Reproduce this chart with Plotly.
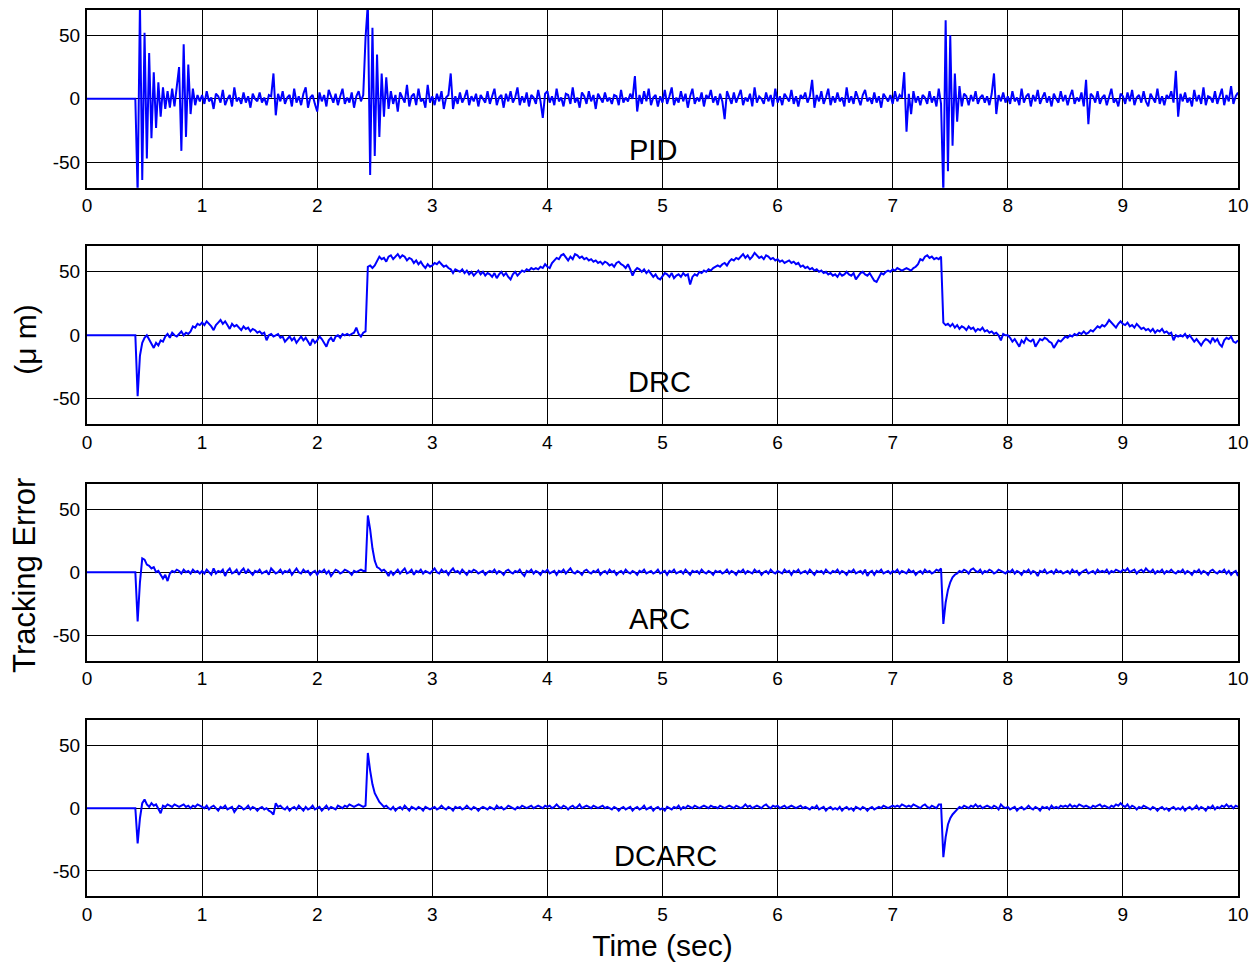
import plotly.graph_objects as go
from plotly.subplots import make_subplots

# Tracking error logs (micrometres), sampled every 20 ms.
# Each inner list holds half a second of samples.
DT = 0.02
ROW_SPAN = 0.5

PID_ERR = [
    [0] * 22 + [-75, 75, -64],
    [52, -47, 36, -31, 21, -23, 13, -14, 9, -8, 6, -7, 8, -6, 10, 25, -41, 43, -30, 27, -12, 8, -5, 3, -2],
    [3, -4, 6, -2, 1, -8, 4, 2, -3, 7, -5, 0, 3, -6, 9, -2, 1, -4, 5, -3, 2, -7, 4, 0, -2],
    [5, -3, 1, -5, 3, 2, 20, -13, 4, -2, 6, -4, 1, 3, -6, 8, -3, 2, -5, 4, 9, -7, 1, 3, -4],
    [-10, 5, -2, 3, -6, 7, 1, -3, 4, -5, 2, 8, -4, 1, -3, 5, -7, 2, 6, -2, 3, 48, 75, -60, 56],
    [-45, 35, -30, 20, -14, 17, -8, 6, -4, 3, -10, 5, 1, -3, 11, -6, 2, 4, -5, 8, -2, 0, -7, 11, -3],
    [2, -5, 4, -2, 6, -8, 1, 3, 20, -8, 2, -4, 5, -3, 1, 7, -5, 2, -2, 4, -6, 3, 0, -3, 6],
    [-4, 2, 8, -5, 1, 3, -7, 4, -2, 6, -3, 1, 9, -5, 2, -3, 5, -6, 3, 1, -4, 7, -2, -15, 4],
    [6, -3, 2, -5, 8, -2, 1, -6, 4, 3, -4, 9, -3, 1, -7, 5, 2, -4, 6, -2, 3, -8, 4, 0, -3],
    [5, -2, 1, -4, 3, 2, -5, 7, -3, 1, -2, 4, 0, 18, -10, 3, -4, 6, -2, 8, -5, 1, 3, -6, 2],
    [-3, 7, -4, 2, 9, -5, 1, -3, 6, -2, 4, -7, 2, 8, -4, 1, -2, 5, -6, 3, 0, 7, -3, 2, -5],
    [4, -2, -16, 6, 1, -4, 5, -3, 2, 7, -5, 1, -2, 4, -6, 9, -3, 2, 0, -4, 5, -2, 3, -6, 8],
    [-3, 2, -5, 4, 1, -2, 7, -4, 2, -6, 3, 0, 5, -3, 2, 15, -7, 3, -2, 6, -4, 1, 8, -5, 2],
    [-3, 5, -2, 1, -6, 9, -3, 2, -4, 6, 0, -5, 3, 7, -2, 1, -4, 5, -3, 2, -7, 4, 1, -2, 3],
    [-4, 6, -2, 3, 1, 21, -26, 4, -12, 6, -3, 2, -5, 3, 1, -4, 6, -3, 2, -6, 8, -4, -75, 62, -57],
    [50, -37, 20, -18, 10, -6, 4, 2, -5, 3, -2, 6, -4, 1, 3, -3, 2, -5, 4, 20, -12, 3, -2, 5, -3],
    [2, -4, 6, -2, 1, -5, 8, -3, 2, 4, -6, 3, -2, 7, -4, 1, 5, -3, 2, -6, 4, 0, -3, 6, -2],
    [3, -5, 2, 7, -4, 1, -2, 5, -6, 15, -20, 4, 2, -3, 6, -4, 1, 3, -5, 2, 8, -3, 0, -6, 4],
    [2, -4, 5, -2, 7, -5, 1, 3, -3, 6, -2, -6, 4, 1, -3, 8, -4, 2, -5, 3, 0, 6, -3, 22, -14],
    [4, -2, 5, -3, 1, -6, 7, -2, 3, -4, 9, -5, 2, 1, -3, 6, -4, 2, 8, -5, 3, -2, 10, -4, 2],
    [5],
]

DRC_ERR = [
    [0] * 22 + [-48, -16, -6],
    [-2, 0, -3, -6, -10, -6, -8, -4, -5, -1, 1, -2, 2, 0, -1, 1, 3, 0, 2, 1, 3, 7, 6, 9, 8],
    [10, 8, 11, 9, 7, 4, 8, 10, 12, 9, 11, 8, 5, 9, 7, 8, 6, 4, 7, 5, 6, 3, 5, 4, 2],
    [3, 1, 2, -4, 0, 1, -1, 0, 1, -2, -1, -5, -3, -1, -4, -2, -6, -3, -1, -4, -2, -5, -8, -3, -6],
    [-4, -1, -3, -6, -9, -4, -2, -5, -1, 0, -2, 1, 0, 1, 0, 1, 2, 6, 1, -1, 2, 3, 54, 55, 53],
    [55, 59, 62, 60, 61, 58, 62, 63, 60, 62, 64, 61, 63, 62, 59, 61, 60, 57, 59, 56, 58, 55, 53, 56, 54],
    [55, 57, 56, 58, 56, 54, 55, 53, 52, 49, 52, 51, 50, 52, 49, 51, 48, 50, 47, 49, 51, 48, 50, 47, 49],
    [48, 46, 49, 45, 48, 50, 47, 49, 46, 44, 48, 50, 47, 49, 51, 50, 52, 51, 53, 52, 53, 52, 54, 53, 56],
    [54, 53, 57, 59, 61, 60, 63, 64, 61, 59, 62, 60, 64, 63, 61, 62, 60, 61, 59, 60, 58, 59, 57, 58, 56],
    [58, 57, 55, 56, 54, 57, 58, 56, 55, 53, 56, 52, 47, 51, 53, 52, 50, 52, 49, 51, 48, 46, 48, 45, 44],
    [47, 49, 48, 46, 49, 45, 47, 48, 46, 49, 47, 48, 40, 46, 48, 47, 50, 49, 51, 50, 52, 51, 53, 54, 55],
    [54, 56, 57, 55, 58, 60, 59, 61, 60, 62, 64, 61, 63, 60, 62, 65, 63, 61, 62, 60, 63, 62, 60, 61, 59],
    [60, 58, 59, 57, 58, 59, 57, 58, 56, 57, 54, 55, 53, 54, 52, 53, 51, 52, 50, 51, 49, 50, 48, 49, 47],
    [48, 46, 49, 47, 48, 50, 48, 47, 49, 44, 47, 49, 50, 48, 47, 49, 46, 43, 42, 46, 49, 48, 50, 51, 50],
    [52, 51, 53, 52, 51, 52, 53, 52, 51, 53, 54, 56, 60, 59, 62, 63, 61, 62, 60, 61, 60, 62, 10, 8, 9],
    [7, 9, 6, 8, 5, 7, 6, 4, 7, 5, 6, 3, 5, 4, 6, 3, 4, 2, 3, 1, 2, 0, -4, 1, 0],
    [0, -2, -5, -3, -6, -9, -4, -6, -2, -4, -5, -3, -9, -6, -3, -4, -2, -3, -5, -6, -10, -7, -4, -5, -3],
    [-1, -2, 0, -1, 1, 0, 2, 1, 3, 1, 2, 4, 3, 5, 7, 6, 8, 7, 9, 12, 10, 8, 6, 9, 11],
    [9, 8, 10, 7, 8, 6, 9, 7, 5, 6, 4, 5, 3, 5, 2, 4, 3, 5, 2, 3, 1, 2, -4, 0, -1],
    [0, -1, 1, -2, 0, -3, -5, -3, -6, -8, -5, -3, -4, -6, -2, -5, -3, -7, -9, -4, -2, -3, -1, -5, -6],
    [-4],
]

ARC_ERR = [
    [0] * 22 + [-39, -8, 11],
    [10, 6, 5, 3, 4, 0, 1, -2, -5, -2, -7, -1, 1, 0, 2, 1, -1, 2, 0, 1, -1, 2, 0, 1, -1],
    [1, -1, 2, 0, -2, 3, -1, 1, 0, 2, -3, 1, 3, -1, 0, 2, -2, 1, 3, -1, 2, 0, -2, 1, 0],
    [2, -1, 0, 1, -2, 3, 1, -1, 0, 2, -1, 1, 0, 2, -2, 1, 3, 0, -1, 2, 0, 1, -2, 0, 1],
    [-2, 1, 0, 2, -1, 1, -3, 0, 2, 1, -1, 0, 2, 1, 0, -2, 1, 0, 1, 2, 1, 1, 45, 34, 19],
    [9, 4, 3, 1, 2, 0, -3, 1, -2, 0, 2, -1, 1, 3, -1, 0, 2, -2, 1, 0, 2, -1, 1, 0, -1],
    [1, 3, 0, -1, 2, 0, 1, -2, 1, 3, 0, 1, -1, 2, 0, -2, 1, 0, 2, 1, -1, 0, 1, -2, 0],
    [1, 0, 2, -1, 1, 0, -2, 1, 2, 0, -1, 1, 0, 2, -1, -3, 1, 0, 2, -1, 1, 0, -2, 1, 0],
    [2, -1, 0, 1, -2, 1, 0, 2, -1, 1, 3, 0, -1, 1, 0, -2, 1, 2, 0, -1, 1, 0, 2, -2, 0],
    [1, -1, 2, 0, 1, -2, 0, 1, -1, 2, 0, -1, 1, 0, -2, 1, 0, 2, -1, 0, 1, -1, 0, 2, -1],
    [0, 1, -2, 1, 0, 2, -1, 0, 1, -1, 2, 0, -2, 1, 0, 1, -1, 2, 0, -1, 1, 0, -2, 1, 0],
    [1, -1, 0, 2, -1, 1, 0, -2, 1, 0, 2, -1, 1, 0, -1, 2, 0, 1, -2, 0, 1, -1, 2, 0, -1],
    [1, 0, -1, 2, 0, 1, -2, 1, 0, 2, -1, 0, 1, -1, 2, 0, -2, 1, 0, 1, -1, 2, 0, -1, 1],
    [0, 2, -1, 1, 0, -2, 1, 0, 2, -1, 0, 1, -1, 2, -3, 0, 1, -2, 1, 0, 2, -1, 0, 1, -1],
    [1, 0, 2, -1, 1, 0, -1, 2, 0, 1, -2, 0, 1, -1, 2, 0, 1, -1, 0, 2, 1, 3, -41, -24, -14],
    [-8, -4, -2, -1, 1, 0, 2, 1, -1, 2, 3, 1, 0, 2, -1, 1, 0, 2, 1, -1, 0, 2, 1, 0, -1],
    [1, 0, 2, -1, 1, 0, -2, 1, 0, 2, -1, 1, 0, -3, 1, 0, 2, -1, 0, 1, -1, 2, 0, 1, -1],
    [0, 1, -1, 2, 0, 1, -2, 0, 1, 2, -1, 0, 1, -1, 2, 0, 1, 0, 2, -1, 1, 0, 2, 1, 0],
    [2, 1, 3, 0, 1, 2, -1, 1, 2, 0, 3, 1, 0, 2, -1, 1, 0, 2, -1, 1, 0, 2, 0, -1, 1],
    [0, 2, -1, 1, 0, -2, 1, 0, 2, -1, 1, 0, -2, 1, 2, 0, -1, 1, 0, 2, -1, 1, -2, 0, 1],
    [-3],
]

DCARC_ERR = [
    [0] * 22 + [-28, -8, 4],
    [7, 3, 1, 4, 2, 3, 0, -4, 2, 1, 3, 2, 1, 3, 2, 1, 2, 3, 1, 2, 0, 2, 1, 3, 2],
    [1, 0, 2, -1, 1, 2, 0, -2, 1, 0, 2, -1, 0, 1, -3, 0, 2, 1, -1, 0, 2, -1, 1, 0, -2],
    [0, 1, -1, 0, -2, -3, -5, 4, 1, 2, 0, -1, 1, -2, 0, 1, -1, 2, 0, -2, 1, -1, 0, 2, -1],
    [0, 1, -2, 0, 2, -1, 1, 0, -1, 2, 1, 0, 2, 1, 3, 2, 1, 2, 3, 2, 1, 2, 44, 30, 19],
    [12, 8, 5, 3, 1, 2, 0, -1, 1, -2, 0, 1, -1, 2, 0, -2, 1, 0, -1, 1, 0, -2, 1, 0, -1],
    [0, 1, -1, 0, 2, 0, -1, 1, 0, -2, 1, 0, 1, -1, 0, 2, 0, -1, 1, 0, -2, 0, 1, 0, -1],
    [1, 0, -1, 2, 0, 1, -1, 0, 2, 1, 0, -1, 1, 0, 2, 1, 0, 1, 2, 0, 1, 2, 1, 0, 2],
    [1, 2, 0, 1, 3, 1, 0, 2, 1, -1, 1, 2, 0, 1, 3, 0, 1, 2, 1, 0, 2, 1, 0, 1, 2],
    [0, 1, 0, -1, 1, 0, -2, 0, 1, -1, 0, 1, -2, 0, 1, -1, 0, 2, -1, 0, 1, -2, 0, 1, -1],
    [0, -2, 1, 0, -1, 1, 0, 2, -1, 1, 0, 2, 1, 0, 2, 1, 0, 1, 2, 1, 0, 2, 1, 1, 0],
    [2, 1, 0, 1, 2, 1, 0, 2, 1, 0, 1, 3, 1, 2, 0, 1, 2, 1, 0, 2, 3, 1, 0, 2, 1],
    [2, 0, 1, 2, 0, 1, 2, 1, 0, 1, 2, 0, 1, 0, -1, 1, 0, 2, -1, 0, 1, -2, 0, 1, -1],
    [0, -1, 1, -2, 0, 1, -1, 0, -2, 1, 0, -1, 1, 0, -2, 0, 1, -1, 0, 1, 0, 2, 1, 0, 1],
    [2, 1, 2, 1, 3, 2, 1, 2, 1, 3, 2, 1, 0, 2, 3, 1, 0, 2, 1, 0, 3, 3, -39, -23, -13],
    [-8, -5, -3, -1, 1, 0, 2, 1, 0, 2, 1, 3, 1, 2, 0, 1, 2, 1, 0, 2, 1, -1, 3, 1, 0],
    [1, -1, 0, 1, -2, 0, 1, -1, 0, 2, 0, -1, 1, 0, -2, 1, 0, 1, -1, 2, 0, 1, 0, 2, 1],
    [2, 1, 3, 1, 2, 1, 3, 2, 1, 2, 1, 0, 2, 1, 2, 3, 1, 2, 1, 0, 2, 1, 3, 2, 4],
    [2, 1, 3, 0, 2, 1, -1, 1, 0, 2, 1, 0, -1, 1, 0, -2, 0, 1, -1, 0, -2, 0, 1, -1, 0],
    [-1, 1, -2, 0, 1, -1, 0, 2, -1, 1, 0, -2, 1, 0, 2, -1, 1, 0, 2, 1, 3, 1, 2, 0, 2],
    [1],
]

CONTROLLERS = ["PID", "DRC", "ARC", "DCARC"]
SERIES = [PID_ERR, DRC_ERR, ARC_ERR, DCARC_ERR]
X_TICKS = list(range(0, 11))
Y_TICKS = [-50, 0, 50]
Y_TICK_TEXT = ["-50", "0", "50"]

# where each controller name is written inside its panel (data coordinates)
LABEL_POS = [(4.92, -40), (4.97, -37), (4.97, -37), (5.03, -38)]

# vertical extent of the four panels (paper fraction, bottom to top)
DOMAINS = [(0.7995, 1.0), (0.5327, 0.7331), (0.2658, 0.4651), (0.0, 0.1982)]


def unroll(rows):
    t, v = [], []
    for i, row in enumerate(rows):
        for j, val in enumerate(row):
            t.append(round(i * ROW_SPAN + j * DT, 4))
            v.append(val)
    return t, v


FONT = "Liberation Sans, Arial, Helvetica, sans-serif"

fig = make_subplots(rows=4, cols=1)

for k, (name, rows) in enumerate(zip(CONTROLLERS, SERIES)):
    t, v = unroll(rows)
    fig.add_trace(
        go.Scatter(x=t, y=v, mode="lines", name=name,
                   line=dict(color="#0000ff", width=2),
                   showlegend=False, hoverinfo="skip"),
        row=k + 1, col=1,
    )
    axis_common = dict(
        showline=True, mirror=True, linecolor="black", linewidth=2,
        showgrid=True, gridcolor="black", gridwidth=1,
        zeroline=False, ticks="", tickfont=dict(family=FONT, size=19, color="black"),
    )
    fig.update_xaxes(range=[0, 10], tickvals=X_TICKS, ticklabelstandoff=0,
                     row=k + 1, col=1, **axis_common)
    fig.update_yaxes(range=[-70, 70], tickvals=Y_TICKS, ticktext=Y_TICK_TEXT,
                     ticklabelstandoff=1,
                     domain=list(DOMAINS[k]), row=k + 1, col=1, **axis_common)

    lx, ly = LABEL_POS[k]
    suffix = "" if k == 0 else str(k + 1)
    fig.add_annotation(x=lx, y=ly, xref="x" + suffix, yref="y" + suffix,
                       text=name, showarrow=False,
                       font=dict(family=FONT, size=29, color="black"))

fig.update_xaxes(domain=[0, 1])

fig.update_xaxes(title=dict(text="Time (sec)", standoff=11,
                            font=dict(family=FONT, size=30, color="black")),
                 row=4, col=1)

fig.add_annotation(xref="paper", yref="paper", x=-0.0537, y=0.3615,
                   xanchor="center", yanchor="middle",
                   text="Tracking Error", showarrow=False, textangle=-90,
                   font=dict(family=FONT, size=31, color="black"))
fig.add_annotation(xref="paper", yref="paper", x=-0.0537, y=0.628,
                   xanchor="center", yanchor="middle",
                   text="(μ m)", showarrow=False, textangle=-90,
                   font=dict(family=FONT, size=30, color="black"))

fig.update_layout(
    width=1257, height=968,
    margin=dict(l=87, r=16, t=8, b=72),
    paper_bgcolor="white", plot_bgcolor="white",
    font=dict(family=FONT, color="black"),
)

fig.write_html("out.html")
